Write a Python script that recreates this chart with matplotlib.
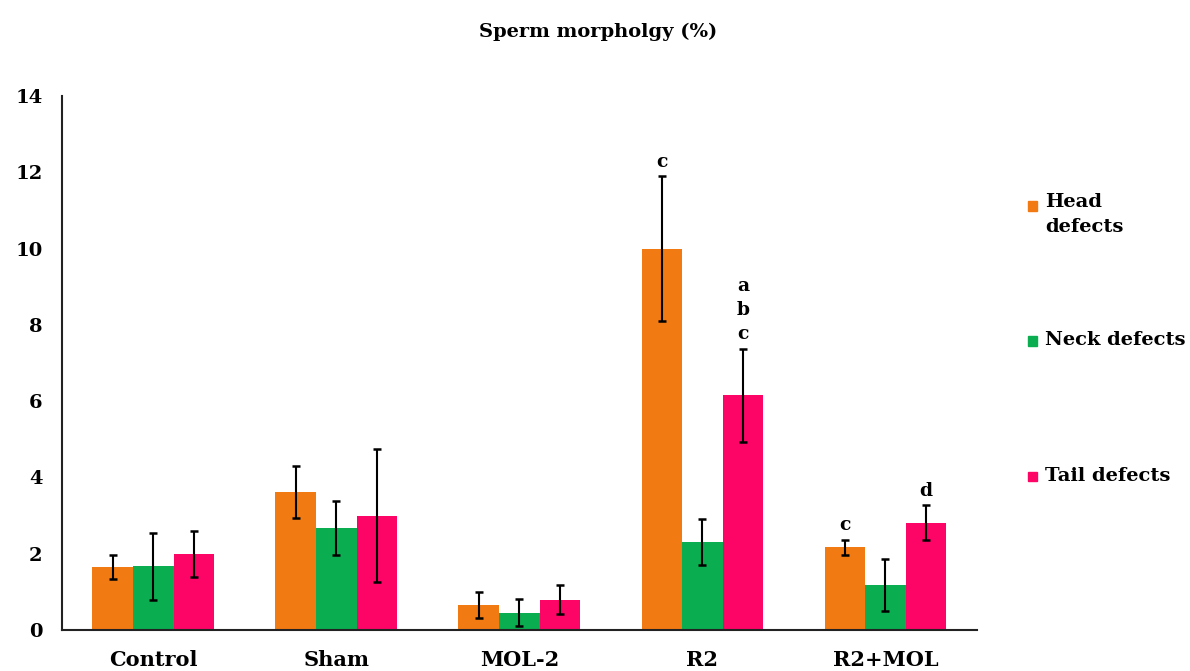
import numpy as np
import matplotlib
matplotlib.use('Agg')
import matplotlib.pyplot as plt
from matplotlib.patches import Rectangle

groups = ['Control', 'Sham', 'MOL-2', 'R2', 'R2+MOL']
series = ['Head\ndefects', 'Neck defects', 'Tail defects']
colors = ['#F27A12', '#0AAE50', '#FC0566']

head = [1.66, 3.62, 0.66, 10.0, 2.17]
head_err = [0.31, 0.67, 0.35, 1.9, 0.2]
neck = [1.67, 2.67, 0.46, 2.3, 1.17]
neck_err = [0.87, 0.7, 0.35, 0.6, 0.68]
tail = [1.99, 3.0, 0.79, 6.15, 2.81]
tail_err = [0.6, 1.74, 0.38, 1.22, 0.46]

# significance letters: (group index, series index, text)
letters = [(3, 0, 'c'), (3, 2, 'a\nb\nc'), (4, 0, 'c'), (4, 2, 'd')]

plt.rcParams['font.family'] = ['DejaVu Serif']
plt.rcParams['font.weight'] = 'bold'

fig = plt.figure(figsize=(11.9, 6.71), dpi=100)
ax = fig.add_axes([0.052, 0.061, 0.769, 0.796])

x = np.arange(len(groups))
w = 0.222
vals = [head, neck, tail]
errs = [head_err, neck_err, tail_err]
for i in range(3):
    pos = x + (i - 1) * w
    ax.bar(pos, vals[i], width=w, color=colors[i], edgecolor='none', zorder=2)
    ax.errorbar(pos, vals[i], yerr=errs[i], fmt='none', ecolor='black',
                elinewidth=1.5, capsize=3, capthick=1.8, zorder=3)

for g, s, t in letters:
    top = vals[s][g] + errs[s][g]
    ax.annotate(t, (x[g] + (s - 1) * w, top), xytext=(0, 4),
                textcoords='offset points', ha='center', va='bottom',
                fontsize=13.5, fontweight='bold', linespacing=1.45)

ax.set_xlim(-0.5, len(groups) - 0.5)
ax.set_ylim(0, 14)
ax.set_yticks(np.arange(0, 15, 2))
ax.set_xticks(x)
ax.set_xticklabels(groups)
ax.tick_params(axis='both', length=0)
ax.tick_params(axis='y', pad=14, labelsize=14)
ax.tick_params(axis='x', pad=14, labelsize=15)
for sp in ['top', 'right']:
    ax.spines[sp].set_visible(False)
for sp in ['left', 'bottom']:
    ax.spines[sp].set_linewidth(1.5)
    ax.spines[sp].set_color('#222222')

fig.text(0.503, 0.952, 'Sperm morpholgy (%)', ha='center', va='center',
         fontsize=14, fontweight='bold')

# legend drawn by hand so the square sits on the first line of text
leg_y = [0.694, 0.493, 0.291]
for i in range(3):
    fig.add_artist(Rectangle((0.8635, leg_y[i] - 0.008), 0.0078, 0.014,
                             transform=fig.transFigure, color=colors[i]))
    if i == 0:
        fig.text(0.878, leg_y[i] + 0.018, series[i], ha='left', va='top',
                 fontsize=14, fontweight='bold', linespacing=1.45)
    else:
        fig.text(0.878, leg_y[i], series[i], ha='left', va='center',
                 fontsize=14, fontweight='bold')

fig.savefig('out.png', dpi=100)
